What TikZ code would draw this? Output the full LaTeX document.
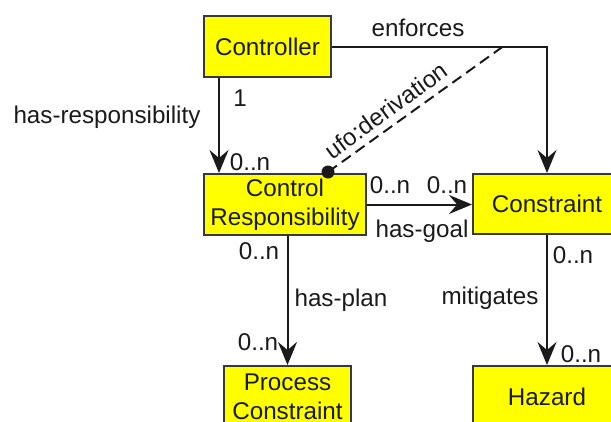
\documentclass[tikz,border=0pt]{standalone}
\usepackage{fontspec}
\setmainfont{Liberation Sans}
\usetikzlibrary{arrows.meta,calc}
\definecolor{boxfill}{HTML}{FFFF00}
\definecolor{boxline}{HTML}{36393D}
\definecolor{ink}{HTML}{1A1A1A}
\begin{document}
\begin{tikzpicture}[x=1pt,y=-1pt,
  every node/.style={font=\fontsize{24.2}{29}\selectfont, text=ink, inner sep=0pt},
  cls/.style={draw=boxline, fill=boxfill, line width=2pt, align=center},
  arr/.style={draw=ink, line width=2pt, -{Stealth[length=23pt,width=19pt,inset=8pt]}},
  deriv/.style={draw=ink, line width=2pt, dash pattern=on 11pt off 6pt},
  lbl/.style={anchor=center}]
\useasboundingbox (0,0) rectangle (611,421);
\clip (0,0) rectangle (611,421);

% classes
\node[cls, minimum width=127pt, minimum height=61pt] (ctrl) at (267.5,46.5) {Controller};
\node[cls, minimum width=162pt, minimum height=61pt] (cr) at (285,204.5) {Control\\Responsibility};
\node[cls, minimum width=148pt, minimum height=60pt] (con) at (547,204) {Constraint};
\node[cls, minimum width=127pt, minimum height=61pt] (pc) at (287.5,396.5) {Process\\Constraint};
\node[cls, minimum width=148pt, minimum height=61pt] (haz) at (547,396.5) {Hazard};

% associations
\draw[arr] ([xshift=-48.5pt]ctrl.south) -- ([xshift=-66pt]cr.north);
\draw[arr] (ctrl.east) -| (con.north);
\draw[arr] (cr.east) -- (cr.east -| con.west);
\draw[arr] (cr.south -| pc.north) -- (pc.north);
\draw[arr] (con.south) -- (haz.north);

% derivation link from the responsibility to the enforces association
\coordinate (enf) at ($(ctrl.east -| con.north)+(-44,0)$);
\coordinate (dot) at ([xshift=43pt,yshift=1pt]cr.north);
\draw[deriv] (dot) -- (enf);
\fill[ink] (dot) circle (6.5pt);

% labels
\node[lbl] (lEnf) at (418,28) {enforces};
\node[lbl] (lResp) at (107,117) {has-responsibility};
\node[lbl] (m1) at (240,98.5) {1};
\node[lbl] (m2) at (250,162) {0..n};
\node[lbl, rotate=36] (lDer) at (386,110.5) {ufo:derivation};
\node[lbl] (m3) at (390,185) {0..n};
\node[lbl] (m4) at (447,185) {0..n};
\node[lbl] (lGoal) at (422,231) {has-goal};
\node[lbl] (m5) at (259,251) {0..n};
\node[lbl] (lPlan) at (341,300) {has-plan};
\node[lbl] (m6) at (258,342) {0..n};
\node[lbl] (m7) at (573,255) {0..n};
\node[lbl] (lMit) at (490,298) {mitigates};
\node[lbl] (m8) at (581,354) {0..n};
\end{tikzpicture}
\end{document}
